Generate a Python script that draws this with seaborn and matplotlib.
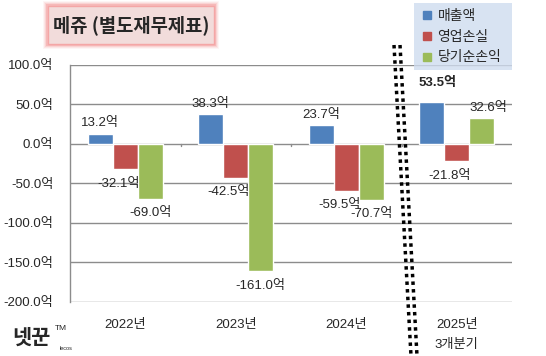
import matplotlib
matplotlib.use("Agg")
import matplotlib.pyplot as plt
import seaborn as sns
import pandas as pd
from matplotlib.patches import Rectangle
from matplotlib.lines import Line2D

categories = ["2022년", "2023년", "2024년", "2025년"]
sub_label = "3개분기"
series = ["매출액", "영업손실", "당기순손익"]
revenue = [13.2, 38.3, 23.7, 53.5]
op_loss = [-32.1, -42.5, -59.5, -21.8]
net_income = [-69.0, -161.0, -70.7, 32.6]
yticks = [100, 50, 0, -50, -100, -150, -200]
colors = ["#4F81BD", "#C0504D", "#9BBB59"]

sns.set_theme(style="white")
plt.rcParams['font.family'] = ['Liberation Sans', 'Noto Sans CJK KR', 'DejaVu Sans']

rows = []
for name, vals in zip(series, [revenue, op_loss, net_income]):
    for c, v in zip(categories, vals):
        rows.append({"cat": c, "series": name, "value": v})
df = pd.DataFrame(rows)

W, H = 546, 356
fig = plt.figure(figsize=(5.46, 3.56), dpi=100)
ax = fig.add_axes([70 / W, 1 - 302 / H, 442 / W, 237 / H])

sns.barplot(data=df, x="cat", y="value", hue="series", order=categories,
            hue_order=series, palette=colors, width=0.68, saturation=1,
            ax=ax, legend=False)

ax.set_xlim(-0.5, 3.5)
ax.set_ylim(-200, 100)
ax.set_yticks(yticks)
ax.set_yticklabels([f"{v:.1f}억" for v in yticks], fontsize=9.5)
ax.set_xlabel("")
ax.set_ylabel("")
ax.tick_params(axis="x", length=0, pad=12, labelsize=9.5)
ax.tick_params(axis="y", length=0, pad=12)
ax.grid(axis="y", color="#8C8C8C", linewidth=1)
ax.set_axisbelow(True)
for s in ["top", "right", "bottom"]:
    ax.spines[s].set_visible(False)
ax.spines["left"].set_color("#8C8C8C")
ax.spines["left"].set_linewidth(1)
for xb in [0.5, 1.5, 2.5]:
    ax.plot([xb, xb], [0, -3], color="#8C8C8C", lw=1)

# sub label under 2025
ax.annotate(sub_label, (3, 0), xycoords=("data", "axes fraction"),
            xytext=(0, -31), textcoords="offset points", ha="center",
            va="center", fontsize=9.5)

# data labels
all_vals = [revenue, op_loss, net_income]
for si, cont in enumerate(ax.containers):
    for ci, bar in enumerate(cont):
        val = all_vals[si][ci]
        xc = bar.get_x() + bar.get_width() / 2
        txt = f"{val:.1f}억"
        bold = (si == 0 and ci == 3)
        if val >= 0:
            dy = 9 if bold else 3
            dx = 4 if bold else (5 if si == 2 else 0)
            ax.annotate(txt, (xc, val), xytext=(dx, dy), textcoords="offset points",
                        ha="center", va="bottom", fontsize=9.5,
                        weight="bold" if bold else "normal")
        else:
            dx = -5 if si == 1 else 0
            ax.annotate(txt, (xc, val), xytext=(dx, -6), textcoords="offset points",
                        ha="center", va="top", fontsize=9.5)

# legend
handles = [Line2D([], [], marker="s", linestyle="", markersize=6,
                  markerfacecolor=c, markeredgecolor=c) for c in colors]
leg = fig.legend(handles, series, loc="upper left",
                 bbox_to_anchor=(414 / W, 1 - 3 / H - 0.01, 98 / W, 0.01), mode="expand",
                 frameon=True, fontsize=10, handletextpad=0.3, labelspacing=0.5,
                 borderpad=0.4, handlelength=1.0, borderaxespad=0)
leg.get_frame().set_facecolor("#CFDCEF")
leg.get_frame().set_edgecolor("none")
leg.get_frame().set_boxstyle("square", pad=0)

# title box with glow
for i, a in enumerate([0.08, 0.12, 0.18, 0.3]):
    g = 4 - i
    fig.patches.append(Rectangle(((47 - g) / W, 1 - (45 + g) / H),
                                 (168 + 2 * g) / W, (40 + 2 * g) / H,
                                 transform=fig.transFigure, facecolor="#F08080",
                                 edgecolor="none", alpha=a))
fig.patches.append(Rectangle((48 / W, 1 - 44 / H), 166 / W, 38 / H,
                             transform=fig.transFigure, facecolor="#F2DCDB",
                             edgecolor="#F4A6A6", lw=1))
fig.text(131 / W, 1 - 25 / H, "메쥬 (별도재무제표)", ha="center", va="center",
         fontsize=13.5, weight="bold", family=["Noto Sans CJK KR"])

# dotted break lines
for off in [0, 6]:
    fig.add_artist(Line2D([(394 + off) / W, (411 + off) / W],
                          [1 - 45 / H, 1 - 356 / H], color="black",
                          lw=2.5, linestyle=(0, (1, 1.2)), transform=fig.transFigure))

# logo
fig.text(12 / W, 1 - 337 / H, "넷꾼", fontsize=15, weight="bold",
         family=["Noto Sans CJK KR"], va="center", ha="left")
fig.text(55 / W, 1 - 328 / H, "TM", fontsize=6, va="center", ha="left")
fig.text(60 / W, 1 - 348 / H, "lecos", fontsize=4, va="center", ha="left")

fig.savefig("out.png", dpi=100)
